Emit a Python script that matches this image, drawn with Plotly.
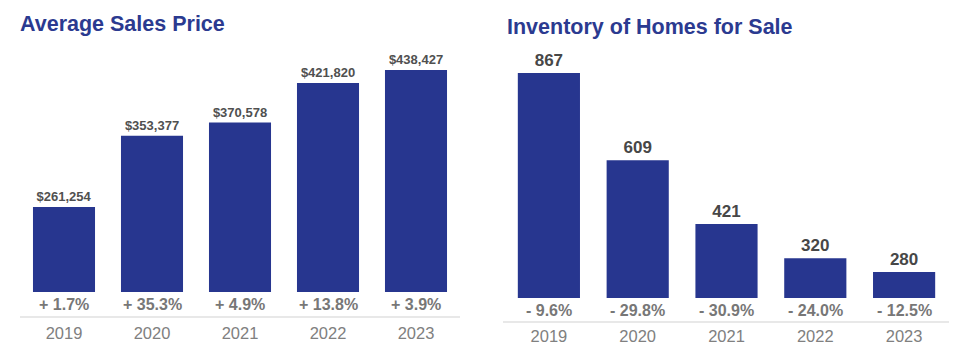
import plotly.graph_objects as go

years = ["2019", "2020", "2021", "2022", "2023"]
avg_price = [261254, 353377, 370578, 421820, 438427]
avg_price_labels = ["$261,254", "$353,377", "$370,578", "$421,820", "$438,427"]
avg_price_change = ["+ 1.7%", "+ 35.3%", "+ 4.9%", "+ 13.8%", "+ 3.9%"]
inventory = [867, 609, 421, 320, 280]
inventory_labels = ["867", "609", "421", "320", "280"]
inventory_change = ["- 9.6%", "- 29.8%", "- 30.9%", "- 24.0%", "- 12.5%"]

W, H = 970, 350
BAR = "#27368f"
TITLE = "#2b3a90"
SANS = "Liberation Sans, Arial, Helvetica, sans-serif"

def px_x(p):
    return p / W

def px_y(p):
    return 1 - p / H

fig = go.Figure()

fig.add_trace(go.Bar(
    x=years, y=avg_price, text=avg_price_labels, textposition="outside",
    cliponaxis=False, constraintext="none", width=0.705,
    marker=dict(color=BAR, line=dict(width=0)),
    textfont=dict(family=SANS, size=13, color="#505050", weight="bold"),
    xaxis="x", yaxis="y", hoverinfo="skip",
))
fig.add_trace(go.Bar(
    x=years, y=inventory, text=inventory_labels, textposition="outside",
    cliponaxis=False, constraintext="none", width=0.70,
    marker=dict(color=BAR, line=dict(width=0)),
    textfont=dict(family=SANS, size=17, color="#474747", weight="bold"),
    xaxis="x2", yaxis="y2", hoverinfo="skip",
))

axis_common = dict(showgrid=False, zeroline=False, showline=False, ticks="",
                   tickfont=dict(family=SANS, size=16.5, color="#808080"),
                   fixedrange=True)

fig.update_layout(
    width=W, height=H, margin=dict(l=0, r=0, t=0, b=0),
    paper_bgcolor="white", plot_bgcolor="white", showlegend=False,
    bargap=0.3,
    xaxis=dict(domain=[px_x(20), px_x(460)], anchor="y", range=[-0.5, 4.5],
               type="category", ticklabelstandoff=29, **axis_common),
    yaxis=dict(domain=[px_y(292), px_y(40)], anchor="x", range=[151300, 477300],
               visible=False, fixedrange=True),
    xaxis2=dict(domain=[px_x(504.5), px_x(948.5)], anchor="y2", range=[-0.5, 4.5],
                type="category", ticklabelstandoff=26, **axis_common),
    yaxis2=dict(domain=[px_y(298), px_y(40)], anchor="x2", range=[203, 964],
                visible=False, fixedrange=True),
)

annotations = [
    dict(text="Average Sales Price", x=px_x(18), y=px_y(23.5), xref="paper", yref="paper",
         xanchor="left", yanchor="middle", showarrow=False,
         font=dict(family=SANS, size=21.5, color=TITLE, weight="bold")),
    dict(text="Inventory of Homes for Sale", x=px_x(505), y=px_y(27.5), xref="paper", yref="paper",
         xanchor="left", yanchor="middle", showarrow=False,
         font=dict(family=SANS, size=21.5, color=TITLE, weight="bold")),
]
for i, ch in enumerate(avg_price_change):
    annotations.append(dict(text=ch, x=i, y=px_y(304), xref="x", yref="paper",
                            xanchor="center", yanchor="middle", showarrow=False,
                            font=dict(family=SANS, size=16, color="#777777", weight="bold")))
for i, ch in enumerate(inventory_change):
    annotations.append(dict(text=ch, x=i, y=px_y(310), xref="x2", yref="paper",
                            xanchor="center", yanchor="middle", showarrow=False,
                            font=dict(family=SANS, size=16, color="#777777", weight="bold")))
fig.update_layout(annotations=annotations)

fig.add_shape(type="line", xref="paper", yref="paper", x0=px_x(20), x1=px_x(460),
              y0=px_y(317), y1=px_y(317), line=dict(color="#e0e0e0", width=1.5))
fig.add_shape(type="line", xref="paper", yref="paper", x0=px_x(503), x1=px_x(949),
              y0=px_y(322), y1=px_y(322), line=dict(color="#e0e0e0", width=1.5))

fig.write_html("out.html")
